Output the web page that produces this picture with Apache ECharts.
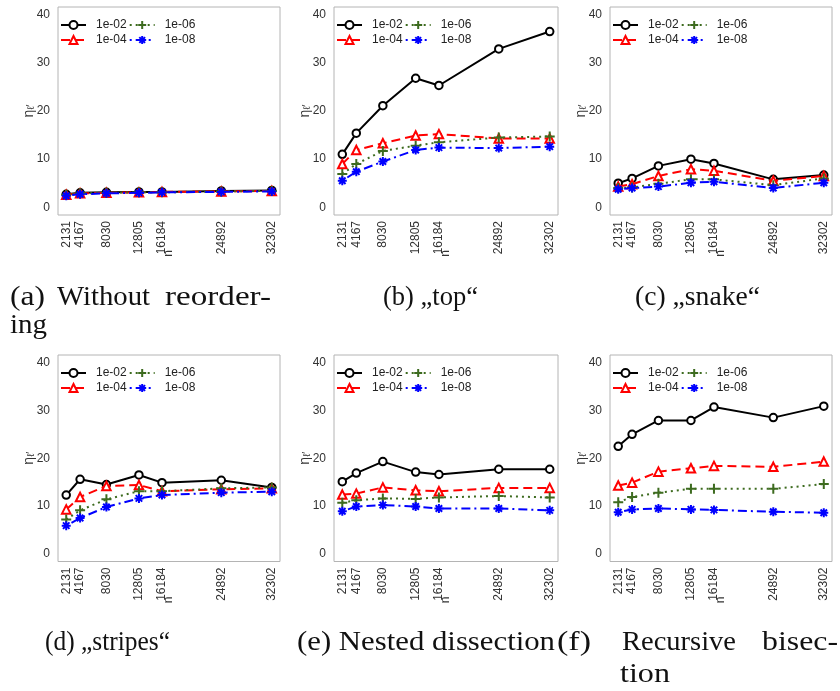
<!DOCTYPE html>
<html>
<head>
<meta charset="utf-8">
<script src="https://cdn.jsdelivr.net/npm/echarts@6/dist/echarts.min.js"></script>
<style>
  html, body { margin: 0; padding: 0; background: #fff; }
  #chart { width: 840px; height: 691px; }
</style>
</head>
<body>
<div id="chart"></div>
<script>
// Problem sizes n (x positions) and tolerance labels
const nValues = [2131, 4167, 8030, 12805, 16184, 24892, 32302];
const tolLabels = ['1e-02', '1e-04', '1e-06', '1e-08'];
const yTicks = [0, 10, 20, 30, 40];

// (a) Without reordering
const noReorder1e02 = [2.7, 3.0, 3.1, 3.2, 3.2, 3.4, 3.5];
const noReorder1e04 = [2.6, 2.9, 3.0, 3.1, 3.2, 3.3, 3.4];
const noReorder1e06 = [2.6, 2.9, 3.0, 3.1, 3.1, 3.3, 3.4];
const noReorder1e08 = [2.4, 2.7, 2.9, 3.0, 3.1, 3.2, 3.3];

// (b) "top"
const top1e02 = [11.0, 15.4, 21.1, 26.8, 25.3, 32.9, 36.5];
const top1e04 = [9.0, 11.9, 13.3, 14.9, 15.2, 14.3, 14.3];
const top1e06 = [6.9, 9.0, 11.7, 12.8, 13.5, 14.5, 14.7];
const top1e08 = [5.5, 7.4, 9.5, 11.9, 12.4, 12.3, 12.6];

// (c) "snake"
const snake1e02 = [5.0, 6.0, 8.6, 10.0, 9.1, 5.8, 6.7];
const snake1e04 = [4.3, 4.8, 6.5, 7.9, 7.6, 5.5, 6.5];
const snake1e06 = [4.0, 4.1, 4.9, 5.8, 5.8, 4.6, 6.0];
const snake1e08 = [3.75, 4.0, 4.3, 5.1, 5.3, 4.0, 5.1];

// (d) "stripes"
const stripes1e02 = [12.3, 15.6, 14.5, 16.5, 14.9, 15.4, 13.9];
const stripes1e04 = [9.3, 11.9, 14.2, 14.4, 13.1, 13.5, 13.7];
const stripes1e06 = [7.2, 9.1, 11.4, 13.1, 13.1, 13.7, 13.9];
const stripes1e08 = [5.9, 7.5, 9.8, 11.6, 12.3, 12.8, 13.0];

// (e) Nested dissection
const nested1e02 = [15.1, 16.9, 19.3, 17.1, 16.6, 17.7, 17.7];
const nested1e04 = [12.4, 12.6, 13.9, 13.3, 13.1, 13.8, 13.8];
const nested1e06 = [10.7, 11.2, 11.6, 11.5, 11.8, 12.1, 11.8];
const nested1e08 = [8.9, 9.9, 10.2, 9.9, 9.5, 9.5, 9.1];

// (f) Recursive bisection
const bisect1e02 = [22.5, 25.0, 27.9, 27.9, 30.7, 28.5, 30.9];
const bisect1e04 = [14.3, 14.9, 17.2, 17.9, 18.4, 18.2, 19.3];
const bisect1e06 = [10.8, 11.9, 12.8, 13.6, 13.6, 13.6, 14.6];
const bisect1e08 = [8.7, 9.3, 9.5, 9.3, 9.2, 8.8, 8.6];

const panels = [
  [noReorder1e02, noReorder1e04, noReorder1e06, noReorder1e08],
  [top1e02, top1e04, top1e06, top1e08],
  [snake1e02, snake1e04, snake1e06, snake1e08],
  [stripes1e02, stripes1e04, stripes1e06, stripes1e08],
  [nested1e02, nested1e04, nested1e06, nested1e08],
  [bisect1e02, bisect1e04, bisect1e06, bisect1e08]
];

// Panel layout (pixels)
const colLeft = [58, 334, 610];
const colWidth = [222, 224, 222];
const rowTop = [7, 355];
const rowHeight = [208, 206.5];

// Axis ranges padded by 4% as in base R graphics
const xPad = (nValues[nValues.length - 1] - nValues[0]) * 0.04;
const xMin = nValues[0] - xPad;
const xMax = nValues[nValues.length - 1] + xPad;
const yMin = -1.6, yMax = 41.6;

const PLUS = 'path://M0,-1 L0,1 M-1,0 L1,0';
const STAR = 'path://M0,-1 L0,1 M-1,0 L1,0 M-0.72,-0.72 L0.72,0.72 M-0.72,0.72 L0.72,-0.72';

const styles = [
  { color: '#000000', symbol: 'emptyCircle', size: 7.5, dash: 'solid', border: 1.6 },
  { color: '#ff0000', symbol: 'emptyTriangle', size: 8.5, dash: [9, 5], border: 1.6 },
  { color: '#3d6b1f', symbol: PLUS, size: 10, dash: [2, 4], border: 2 },
  { color: '#0000ff', symbol: STAR, size: 9, dash: [2, 4, 9, 4], border: 2 }
];

const FONT = 'Liberation Sans';
const grids = [], xAxes = [], yAxes = [], series = [], legends = [];

panels.forEach((panel, p) => {
  const col = p % 3, row = Math.floor(p / 3);
  grids.push({
    left: colLeft[col], top: rowTop[row], width: colWidth[col], height: rowHeight[row],
    show: true, borderColor: '#b4b4b4', borderWidth: 1, backgroundColor: '#fff'
  });
  xAxes.push({
    type: 'value', gridIndex: p, min: xMin, max: xMax,
    axisLine: { show: false }, axisTick: { show: false }, splitLine: { show: false },
    axisLabel: {
      customValues: nValues, rotate: 90, margin: 6,
      formatter: v => String(v),
      fontFamily: FONT, fontSize: 12, color: '#333'
    },
    name: 'n', nameLocation: 'middle', nameGap: 35, nameRotate: 90, nameMoveOverlap: false,
    nameTextStyle: { fontFamily: FONT, fontSize: 12, color: '#333' }
  });
  yAxes.push({
    type: 'value', gridIndex: p, min: yMin, max: yMax,
    axisLine: { show: false }, axisTick: { show: false }, splitLine: { show: false },
    axisLabel: {
      customValues: yTicks, margin: 8,
      fontFamily: FONT, fontSize: 12, color: '#333'
    },
    name: '{a|η}{b|ℓ′}', nameLocation: 'middle', nameGap: 22, nameRotate: 90, nameMoveOverlap: false,
    nameTextStyle: {
      fontFamily: FONT, color: '#333',
      rich: {
        a: { fontSize: 14, fontFamily: FONT, color: '#333' },
        b: { fontSize: 10, fontFamily: FONT, color: '#333', verticalAlign: 'bottom' }
      }
    }
  });
  panel.forEach((vals, s) => {
    const st = styles[s];
    series.push({
      type: 'line', name: tolLabels[s], xAxisIndex: p, yAxisIndex: p,
      data: nValues.map((n, i) => [n, vals[i]]),
      symbol: st.symbol, symbolSize: st.size, showAllSymbol: true,
      lineStyle: { color: st.color, width: 2, type: st.dash },
      itemStyle: { color: st.color, borderColor: st.color, borderWidth: st.border },
      emphasis: { disabled: true }, animation: false, z: 2 + s
    });
  });
  const legendBase = {
    orient: 'horizontal', left: colLeft[col] + 2, itemWidth: 25, itemHeight: 10, itemGap: 2,
    padding: 0, selectedMode: false,
    textStyle: { fontFamily: FONT, fontSize: 12, color: '#222', padding: [0, 0, 0, 5] }
  };
  legends.push(Object.assign({}, legendBase, { top: rowTop[row] + 12, data: [tolLabels[0], tolLabels[2]] }));
  legends.push(Object.assign({}, legendBase, { top: rowTop[row] + 27, data: [tolLabels[1], tolLabels[3]] }));
});

// Sub-figure captions, stretched to the typeset widths
const captions = [
  { text: '(a)', x0: 10, x1: 45, y: 298 },
  { text: 'Without', x0: 57, x1: 150, y: 298 },
  { text: 'reorder-', x0: 165, x1: 271, y: 298 },
  { text: 'ing', x0: 10, x1: 47, y: 326 },
  { text: '(b) „top“', x0: 383, x1: 478, y: 298 },
  { text: '(c) „snake“', x0: 635, x1: 760, y: 298 },
  { text: '(d) „stripes“', x0: 45, x1: 170, y: 643 },
  { text: '(e) Nested dissection', x0: 297, x1: 555, y: 643 },
  { text: '(f)', x0: 557, x1: 591, y: 643 },
  { text: 'Recursive', x0: 622, x1: 736, y: 643 },
  { text: 'bisec-', x0: 762, x1: 838, y: 643 },
  { text: 'tion', x0: 620, x1: 670, y: 675 }
];
const CAP_FONT = '28px "Liberation Serif"';
const measureCtx = document.createElement('canvas').getContext('2d');
measureCtx.font = CAP_FONT;
const graphic = captions.map(c => {
  const w = measureCtx.measureText(c.text).width;
  return {
    type: 'text', x: c.x0, y: c.y, scaleX: (c.x1 - c.x0) / w, scaleY: 1,
    style: { text: c.text, font: CAP_FONT, fill: '#111', textVerticalAlign: 'middle', textAlign: 'left' }
  };
});

const chart = echarts.init(document.getElementById('chart'), null, { renderer: 'canvas' });
chart.setOption({
  animation: false,
  backgroundColor: '#fff',
  grid: grids, xAxis: xAxes, yAxis: yAxes, series: series, legend: legends,
  graphic: graphic
});
</script>
</body>
</html>
